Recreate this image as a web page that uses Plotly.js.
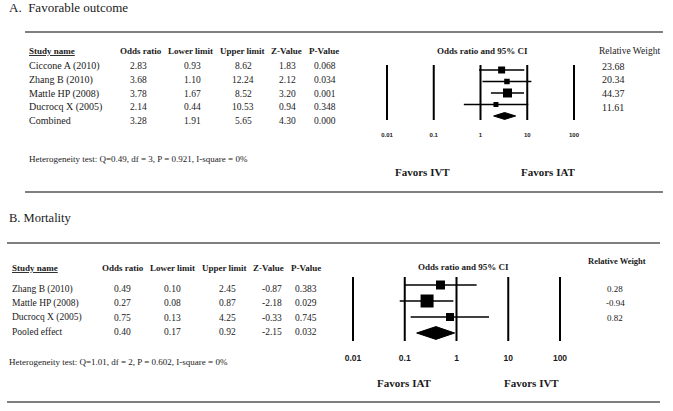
<!DOCTYPE html>
<html>
<head>
<meta charset="utf-8">
<script src="https://cdn.plot.ly/plotly-3.0.1.min.js"></script>
<style>
  body { margin: 0; background: #fff; }
  #chart { width: 673px; height: 411px; }
</style>
</head>
<body>
<div id="chart"></div>
<script>
// ---- data: A. Favorable outcome ----
var namesA = ['Ciccone A (2010)', 'Zhang B (2010)', 'Mattle HP (2008)', 'Ducrocq X (2005)', 'Combined'];
var orA = [2.83, 3.68, 3.78, 2.14, 3.28];
var lowA = [0.93, 1.10, 1.67, 0.44, 1.91];
var upA = [8.62, 12.24, 8.52, 10.53, 5.65];
var zA = [1.83, 2.12, 3.20, 0.94, 4.30];
var pA = [0.068, 0.034, 0.001, 0.348, 0.000];
var weightA = [23.68, 20.34, 44.37, 11.61];
var hetA = 'Heterogeneity test: Q=0.49, df = 3, P = 0.921, I-square = 0%';

// ---- data: B. Mortality ----
var namesB = ['Zhang B (2010)', 'Mattle HP (2008)', 'Ducrocq X (2005)', 'Pooled effect'];
var orB = [0.49, 0.27, 0.75, 0.40];
var lowB = [0.10, 0.08, 0.13, 0.17];
var upB = [2.45, 0.87, 4.25, 0.92];
var zB = [-0.87, -2.18, -0.33, -2.15];
var pB = [0.383, 0.029, 0.745, 0.032];
var weightB = [0.28, -0.94, 0.82];
var hetB = 'Heterogeneity test: Q=1.01, df = 2, P = 0.602, I-square = 0%';

var headers = ['Odds ratio', 'Lower limit', 'Upper limit', 'Z-Value', 'P-Value'];
var tickVals = [0.01, 0.1, 1, 10, 100];
var tickText = ['0.01', '0.1', '1', '10', '100'];

// marker sizes (style)
var sqA = [7, 5.5, 9, 5];
var sqB = [9, 13, 8];

var W = 673, H = 411;
function px(x) { return x / W; }
function py(y) { return 1 - y / H; }

var serif = 'Liberation Serif, Times New Roman, serif';
var ink = '#1a1a1a';

var annotations = [];
function txt(x, y, s, size, anchor, bold) {
  annotations.push({
    xref: 'paper', yref: 'paper', x: px(x), y: py(y),
    text: bold ? '<b>' + s + '</b>' : s,
    showarrow: false, xanchor: anchor || 'left', yanchor: 'middle',
    font: {family: serif, size: size, color: ink}
  });
}

// ---- panel A text ----
txt(7, 8, 'A.  Favorable outcome', 13);
txt(27, 51, '<u>Study name</u>', 9, 'left', true);
var hdrA = [141, 190, 242, 286, 324];
var colA = [138, 192, 243, 287, 325];
headers.forEach(function (h, i) { txt(hdrA[i], 51, h, 9, 'center', true); });
namesA.forEach(function (n, i) {
  var y = 66 + i * 13.75;
  txt(27, y, n, 10);
  txt(colA[0], y, orA[i].toFixed(2), 9.5, 'center');
  txt(colA[1], y, lowA[i].toFixed(2), 9.5, 'center');
  txt(colA[2], y, upA[i].toFixed(2), 9.5, 'center');
  txt(colA[3], y, zA[i].toFixed(2), 9.5, 'center');
  txt(colA[4], y, pA[i].toFixed(3), 9.5, 'center');
});
txt(27, 159, hetA, 9);
txt(482, 51, 'Odds ratio and 95% CI', 9, 'center', true);
txt(629, 51, 'Relative Weight', 9.5, 'center');
weightA.forEach(function (w, i) { txt(613, 66 + i * 13.75, w.toFixed(2), 10, 'center'); });
txt(422, 172, 'Favors IVT', 11, 'center', true);
txt(548, 172, 'Favors IAT', 11, 'center', true);

// ---- panel B text ----
txt(7, 218, 'B. Mortality', 12.5);
txt(10, 268, '<u>Study name</u>', 9, 'left', true);
var hdrB = [123, 172, 224, 268, 306];
var colB = [123, 173, 227, 272, 306];
headers.forEach(function (h, i) { txt(hdrB[i], 268, h, 9, 'center', true); });
namesB.forEach(function (n, i) {
  var y = 289 + i * 14.3;
  txt(10, y, n, 9.5);
  txt(colB[0], y, orB[i].toFixed(2), 9.5, 'center');
  txt(colB[1], y, lowB[i].toFixed(2), 9.5, 'center');
  txt(colB[2], y, upB[i].toFixed(2), 9.5, 'center');
  txt(colB[3], y, zB[i].toFixed(2), 9.5, 'center');
  txt(colB[4], y, pB[i].toFixed(3), 9.5, 'center');
});
txt(7, 362, hetB, 9);
txt(463, 267, 'Odds ratio and 95% CI', 9, 'center', true);
txt(617, 261, 'Relative Weight', 8.5, 'center', true);
weightB.forEach(function (w, i) { txt(615, 289 + i * 14.3, w.toFixed(2), 9, 'center'); });
txt(404, 383, 'Favors IAT', 11, 'center', true);
txt(531, 383, 'Favors IVT', 11, 'center', true);

// ---- rules ----
function rule(x0, x1, y) {
  return {type: 'line', xref: 'paper', yref: 'paper', x0: px(x0), x1: px(x1), y0: py(y), y1: py(y),
          line: {color: '#555', width: 1.5}};
}
var shapes = [rule(25, 663, 32), rule(25, 663, 192), rule(7, 660, 243), rule(7, 660, 402)];

// reference lines at each decade
function decadeLines(xa, ya) {
  return tickVals.map(function (v) {
    return {type: 'line', xref: xa, yref: ya + ' domain', x0: v, x1: v, y0: 0, y1: 1,
            layer: 'below', line: {color: '#000', width: 2}};
  });
}
shapes = shapes.concat(decadeLines('x', 'y'), decadeLines('x2', 'y2'));

// ---- forest traces ----
function forest(names, or, low, up, sizes, xa, ya, halfH) {
  var n = names.length - 1;
  var idx = names.slice(0, n).map(function (_, i) { return i; });
  var studies = {
    type: 'scatter', mode: 'markers', xaxis: xa, yaxis: ya,
    x: or.slice(0, n), y: idx, cliponaxis: false, hoverinfo: 'skip',
    marker: {symbol: 'square', size: sizes, color: '#000', opacity: 1, line: {width: 0}},
    error_x: {
      type: 'data', symmetric: false,
      array: or.slice(0, n).map(function (v, i) { return up[i] - v; }),
      arrayminus: or.slice(0, n).map(function (v, i) { return v - low[i]; }),
      color: '#000', thickness: 1.6, width: 0
    }
  };
  var diamond = {
    type: 'scatter', mode: 'lines', xaxis: xa, yaxis: ya, cliponaxis: false, hoverinfo: 'skip',
    x: [low[n], or[n], up[n], or[n], low[n]],
    y: [n, n - halfH, n, n + halfH, n],
    fill: 'toself', fillcolor: '#000', line: {color: '#000', width: 1}
  };
  return [studies, diamond];
}

var data = forest(namesA, orA, lowA, upA, sqA, 'x', 'y', 0.3)
  .concat(forest(namesB, orB, lowB, upB, sqB, 'x2', 'y2', 0.4));

function xAxis(d0, d1, anchor, fsize, tlen) {
  return {
    type: 'log', domain: [px(d0), px(d1)], range: [-2.05, 2.05], anchor: anchor,
    tickvals: tickVals, ticktext: tickText, showgrid: false,
    zeroline: false, showline: false, ticks: 'outside', ticklen: tlen, tickcolor: 'rgba(0,0,0,0)',
    tickfont: {family: 'Liberation Sans, Arial, sans-serif', size: fsize, color: ink, weight: 'bold'},
    fixedrange: true
  };
}
function yAxis(top, bot, r0, r1, anchor) {
  return {
    domain: [py(bot), py(top)], range: [r1, r0], anchor: anchor,
    showgrid: false, zeroline: false, showticklabels: false, ticks: '', showline: false, fixedrange: true
  };
}

var layout = {
  width: W, height: H, autosize: false,
  margin: {l: 0, r: 0, t: 0, b: 0},
  paper_bgcolor: '#fff', plot_bgcolor: 'rgba(0,0,0,0)',
  showlegend: false,
  // decade spacing A: 46.75px, B: 51.75px; range padded by 0.05 decade
  xaxis: xAxis(387 - 2.34, 574 + 2.34, 'y', 6, 9),
  yaxis: yAxis(65, 120, -0.435, 4.35, 'x'),
  xaxis2: xAxis(353 - 2.59, 560 + 2.59, 'y2', 8.5, 9),
  yaxis2: yAxis(277, 341, -0.5, 3.5, 'x2'),
  annotations: annotations,
  shapes: shapes
};

Plotly.newPlot('chart', data, layout, {displayModeBar: false, staticPlot: true});
</script>
</body>
</html>
